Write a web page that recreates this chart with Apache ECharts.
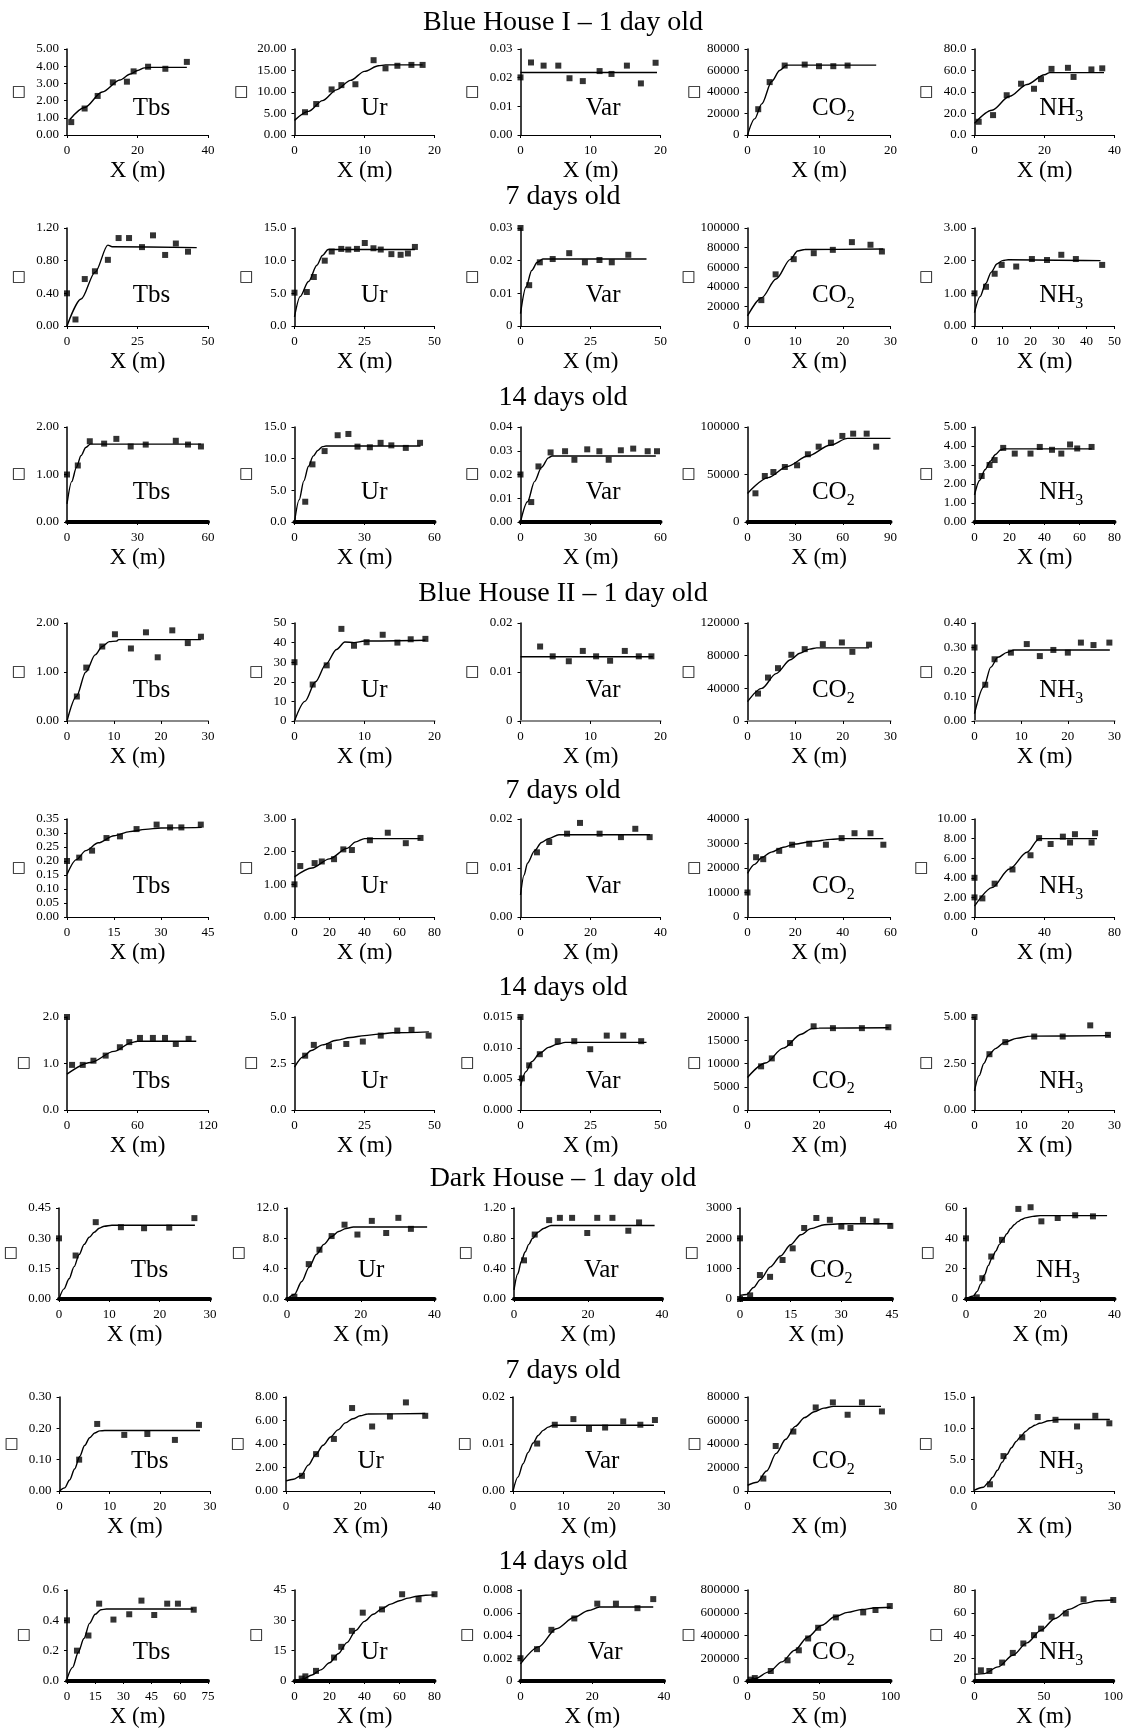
<!DOCTYPE html>
<html><head><meta charset="utf-8">
<script src="https://cdn.jsdelivr.net/npm/echarts@6/dist/echarts.min.js"></script>
<style>html,body{margin:0;padding:0;background:#fff}#c{width:1126px;height:1729px}</style>
</head><body><div id="c"></div>
<script>
// ---------- DATA ----------
const rowTitles = ['Blue House I \u2013 1 day old','7 days old','14 days old','Blue House II \u2013 1 day old','7 days old','14 days old','Dark House \u2013 1 day old','7 days old','14 days old'];
const varNames = ['Tbs','Ur','Var','CO2','NH3'];

// Row 1
const r1TbsPts = [[1.2,0.75],[5,1.54],[8.7,2.27],[13,3.06],[17,3.1],[18.9,3.7],[23,3.97],[27.9,3.85],[34,4.25]];
const r1TbsFit = [[0.8,0.9],[5,1.6],[10,2.5],[15,3.2],[18,3.55],[20,3.75],[22,3.9],[24,3.93],[34,3.93]];
const r1UrPts = [[1.5,5.3],[3.1,7.2],[5.3,10.6],[6.7,11.6],[8.7,11.8],[11.3,17.4],[13,15.5],[14.7,16.1],[16.7,16.3],[18.3,16.3]];
const r1UrFit = [[0,3.4],[2,5.5],[4,8],[6,10.5],[8,12.7],[10,14.8],[12,16.1],[13,16.3],[18.3,16.3]];
const r1VarPts = [[0,0.0201],[1.5,0.0253],[3.3,0.0242],[5.4,0.0242],[7,0.0198],[8.9,0.0188],[11.3,0.0223],[13,0.0213],[15.2,0.0242],[17.2,0.018],[19.3,0.0252]];
const r1VarFit = [[0,0.0218],[19.5,0.0218]];
const r1CO2Pts = [[1.5,24000],[3.1,49200],[5.2,64600],[8,65500],[10,64000],[12,64000],[14,64600]];
const r1CO2Fit = [[0,0],[1,15000],[2,29000],[3.4,50000],[4.5,60000],[5.5,65000],[18,65000]];
const r1NH3Pts = [[1.2,12.3],[5.3,18.5],[9.2,37],[13.3,47.7],[17,43],[19,52],[22,61.5],[26.7,62.5],[28.3,54],[33.4,61],[36.5,62]];
const r1NH3Fit = [[0,10.8],[5,23],[10,36],[15,47],[20,56],[21.5,58],[37,58]];
const r1YLabels = [['0.00','1.00','2.00','3.00','4.00','5.00'],['0.00','5.00','10.00','15.00','20.00'],['0.00','0.01','0.02','0.03'],['0','20000','40000','60000','80000'],['0.0','20.0','40.0','60.0','80.0']];
const r1XTicks = [[0,20,40],[0,10,20],[0,10,20],[0,10,20],[0,20,40]];

// Row 2
const r2TbsPts = [[0,0.40],[3,0.08],[6.3,0.575],[9.9,0.67],[14.5,0.81],[18.3,1.077],[22,1.077],[26.6,0.966],[30.5,1.11],[34.8,0.87],[38.6,1.01],[42.9,0.91]];
const r2TbsFit = [[0,0],[5,0.33],[10,0.66],[14.5,0.99],[16,0.97],[46,0.96]];
const r2UrPts = [[0,5.1],[4.4,5.2],[6.9,7.5],[10.8,10],[13.3,11.4],[16.7,11.8],[19.2,11.7],[22.3,11.8],[25.1,12.7],[28.2,11.9],[30.8,11.7],[34.6,11.0],[37.9,10.9],[40.5,11.1],[43,12.1]];
const r2UrFit = [[0,1.4],[2,4.5],[5,6.8],[8,9.3],[10,10.8],[12,11.7],[43,11.7]];
const r2VarPts = [[0,0.03],[3.1,0.0125],[6.9,0.0195],[11.5,0.0205],[17.4,0.0223],[23,0.0195],[28.2,0.0202],[32.6,0.0195],[38.5,0.0218]];
const r2VarFit = [[0,0.0038],[2,0.012],[4,0.017],[6,0.0195],[8,0.0205],[45,0.0205]];
const r2CO2Pts = [[2.9,26400],[5.9,52700],[9.7,68200],[13.9,74300],[17.9,77700],[21.9,85600],[25.8,82900],[28.2,76000]];
const r2CO2Fit = [[0,10300],[3,29000],[6,48000],[9,68000],[10.5,76500],[12,78000],[28.5,78500]];
const r2NH3Pts = [[0,1.0],[4.1,1.2],[7.2,1.6],[9.7,1.87],[14.9,1.82],[20.5,2.05],[25.9,2.02],[31,2.18],[36.2,2.05],[45.6,1.87]];
const r2NH3Fit = [[0,0.41],[2,0.9],[4,1.3],[6,1.65],[8,1.9],[10,2.0],[12,2.03],[45,2.0]];
const r2YLabels = [['0.00','0.40','0.80','1.20'],['0.0','5.0','10.0','15.0'],['0','0.01','0.02','0.03'],['0','20000','40000','60000','80000','100000'],['0.00','1.00','2.00','3.00']];
const r2XTicks = [[0,25,50],[0,25,50],[0,25,50],[0,10,20,30],[0,10,20,30,40,50]];

// Row 3
const r3TbsPts = [[0,1.0],[4.6,1.19],[9.7,1.7],[15.8,1.65],[21,1.75],[27.1,1.59],[33.5,1.63],[46.3,1.71],[51.5,1.63],[57,1.59]];
const r3TbsFit = [[0,0.38],[2,0.85],[4,1.15],[6,1.4],[8,1.57],[10,1.64],[57,1.64]];
const r3UrPts = [[4.6,3.2],[7.7,9.1],[12.9,11.2],[18.5,13.7],[23.1,13.9],[27,11.9],[32.3,11.8],[36.9,12.5],[41.5,12.1],[47.7,11.7],[53.8,12.5]];
const r3UrFit = [[0,0],[2,3.5],[4,6.5],[6,8.8],[8,10.4],[10,11.3],[12,11.9],[13.5,12],[54,12]];
const r3VarPts = [[0,0.02],[4.6,0.0084],[7.7,0.0234],[12.9,0.0293],[19.1,0.0298],[23.1,0.0262],[28.6,0.0306],[33.8,0.0298],[37.8,0.0262],[43,0.0302],[48.3,0.0309],[54.5,0.0298],[58.5,0.0298]];
const r3VarFit = [[0,0],[3,0.0085],[6,0.017],[9,0.023],[12,0.027],[13.5,0.0278],[58,0.0278]];
const r3CO2Pts = [[5,30200],[10.9,48400],[16.3,52600],[23.5,57900],[31.2,59700],[38,71300],[44.8,79300],[52.5,83500],[59.7,90600],[66.5,93000],[75,93000],[81,79300]];
const r3CO2Fit = [[0,30000],[13,46700],[25,58500],[38,69500],[52,80800],[63,88000],[90,88000]];
const r3NH3Pts = [[4.1,2.42],[8.6,3.0],[11.5,3.26],[16.4,3.9],[23,3.6],[32,3.6],[37.3,3.95],[44.3,3.8],[49.6,3.6],[54.6,4.08],[58.7,3.87],[66.9,3.95]];
const r3NH3Fit = [[0,1.43],[3,2.2],[6,2.75],[9,3.2],[12,3.55],[15,3.8],[17,3.85],[67,3.85]];
const r3YLabels = [['0.00','1.00','2.00'],['0.0','5.0','10.0','15.0'],['0.00','0.01','0.02','0.03','0.04'],['0','50000','100000'],['0.00','1.00','2.00','3.00','4.00','5.00']];
const r3XTicks = [[0,30,60],[0,30,60],[0,30,60],[0,30,60,90],[0,20,40,60,80]];

// Row 4
const r4TbsPts = [[2.1,0.5],[4.1,1.09],[7.5,1.52],[10.2,1.77],[13.6,1.48],[16.8,1.81],[19.3,1.3],[22.4,1.85],[25.7,1.59],[28.5,1.72]];
const r4TbsFit = [[0,0],[2,0.5],[4,1.0],[6,1.35],[7.5,1.52],[9,1.62],[10.5,1.63],[11,1.66],[28.5,1.66]];
const r4UrPts = [[0,30],[2.6,18.6],[4.6,28.4],[6.7,47],[8.5,38.4],[10.3,40.2],[12.6,44],[14.7,40],[16.6,41.7],[18.7,41.9]];
const r4UrFit = [[0,0],[1.5,10],[3,20],[4.5,29],[6,36.5],[7.2,40.3],[8.5,40],[10,40.8],[18.7,41.2]];
const r4VarPts = [[2.8,0.0152],[4.6,0.0132],[6.9,0.0122],[8.9,0.0143],[10.8,0.0132],[12.8,0.0123],[14.9,0.0143],[16.9,0.0132],[18.7,0.0132]];
const r4VarFit = [[0,0.0131],[18.9,0.0131]];
const r4CO2Pts = [[2.2,33600],[4.3,53200],[6.4,64700],[9.2,81100],[12,88000],[15.8,94100],[19.8,96200],[22,84700],[25.5,93500]];
const r4CO2Fit = [[0,23700],[3,40000],[6,58000],[9,75000],[11,83000],[13,88000],[14.5,89500],[25.5,89500]];
const r4NH3Pts = [[0,0.30],[2.3,0.148],[4.3,0.252],[7.8,0.279],[11.2,0.314],[14,0.265],[16.9,0.29],[20,0.279],[22.8,0.32],[25.5,0.31],[28.9,0.32]];
const r4NH3Fit = [[0,0.03],[2,0.14],[3.5,0.22],[5,0.26],[7,0.28],[8.5,0.29],[29,0.29]];
const r4YLabels = [['0.00','1.00','2.00'],['0','10','20','30','40','50'],['0','0.01','0.02'],['0','40000','80000','120000'],['0.00','0.10','0.20','0.30','0.40']];
const r4XTicks = [[0,10,20,30],[0,10,20],[0,10,20],[0,10,20,30],[0,10,20,30]];

// Row 5
const r5TbsPts = [[0,0.20],[3.9,0.212],[8,0.237],[12.6,0.282],[16.9,0.288],[22.2,0.314],[28.6,0.33],[32.9,0.32],[36.5,0.32],[42.7,0.33]];
const r5TbsFit = [[0,0.152],[3,0.205],[6,0.237],[10,0.265],[15,0.29],[20,0.305],[25,0.313],[30,0.318],[43,0.32]];
const r5UrPts = [[0,1.0],[3.3,1.56],[11.5,1.65],[15.6,1.7],[22.6,1.77],[27.9,2.07],[32.8,2.05],[43.1,2.35],[53.3,2.58],[63.6,2.26],[72,2.42]];
const r5UrFit = [[0,1.23],[10,1.5],[20,1.78],[30,2.1],[35,2.3],[40,2.4],[72,2.4]];
const r5VarPts = [[4.7,0.0132],[8.2,0.0153],[13.3,0.017],[17,0.0192],[22.6,0.017],[28.7,0.0163],[32.8,0.018],[36.9,0.0163]];
const r5VarFit = [[0,0.0045],[1,0.0085],[2,0.011],[4,0.0135],[6,0.0152],[8,0.016],[11,0.0168],[37,0.0168]];
const r5CO2Pts = [[0,10000],[3.6,24400],[6.6,23600],[13.3,27000],[18.7,29500],[25.9,29900],[32.9,29500],[39.5,32200],[44.9,34200],[51.6,34200],[57,29500]];
const r5CO2Fit = [[0,17800],[3,21500],[6,24300],[10,26500],[15,28500],[20,29800],[27,30800],[35,31700],[40,32000],[57,32000]];
const r5NH3Pts = [[0,4.0],[0,2.0],[4.5,1.9],[11.5,3.4],[21.7,4.85],[32,6.3],[36.9,8.05],[43.5,7.45],[50.5,8.2],[54.6,7.6],[57.4,8.45],[66.9,7.6],[68.9,8.55]];
const r5NH3Fit = [[0,1.1],[10,3.0],[20,4.9],[30,6.6],[37,8.0],[70,8.0]];
const r5YLabels = [['0.00','0.05','0.10','0.15','0.20','0.25','0.30','0.35'],['0.00','1.00','2.00','3.00'],['0.00','0.01','0.02'],['0','10000','20000','30000','40000'],['0.00','2.00','4.00','6.00','8.00','10.00']];
const r5XTicks = [[0,15,30,45],[0,20,40,60,80],[0,20,40],[0,20,40,60],[0,40,80]];

// Row 6
const r6TbsPts = [[0,2.0],[4.3,0.97],[13.4,0.97],[22.5,1.06],[32.9,1.17],[45,1.35],[53,1.46],[62.1,1.55],[73.1,1.55],[83.4,1.55],[92.6,1.42],[103.5,1.53]];
const r6TbsFit = [[0,0.77],[20,1.02],[40,1.26],[55,1.45],[60,1.48],[110,1.48]];
const r6UrPts = [[3.8,2.92],[6.9,3.5],[12.3,3.43],[18.5,3.55],[24.4,3.68],[30.8,4.0],[36.7,4.27],[41.8,4.31],[47.9,4.0]];
const r6UrFit = [[0,2.3],[3,2.85],[6,3.2],[10,3.5],[15,3.75],[20,3.9],[25,4.0],[30,4.08],[35,4.15],[48,4.2]];
const r6VarPts = [[0,0.015],[0.5,0.0051],[3.1,0.0072],[6.9,0.009],[13.3,0.0111],[19.2,0.0111],[24.9,0.0098],[30.8,0.012],[36.7,0.012],[43.1,0.0111]];
const r6VarFit = [[0,0.0039],[2,0.0062],[4,0.0078],[7,0.0092],[10,0.0101],[13,0.0106],[16,0.0109],[45,0.0109]];
const r6CO2Pts = [[3.8,9390],[6.8,11100],[11.9,14400],[18.5,18000],[23.9,17600],[32,17600],[39.4,17800]];
const r6CO2Fit = [[0,7000],[5,10100],[10,13300],[15,16300],[18,17500],[20,17600],[39.5,17700]];
const r6NH3Pts = [[0,5.0],[3.2,3.0],[6.6,3.65],[12.8,3.95],[18.9,3.95],[24.8,4.55],[28.6,4.04]];
const r6NH3Fit = [[0,1.03],[1,1.85],[2,2.5],[3,2.95],[4.5,3.3],[6.5,3.65],[9,3.85],[12,3.97],[29,4.0]];
const r6YLabels = [['0.0','1.0','2.0'],['0.0','2.5','5.0'],['0.000','0.005','0.010','0.015'],['0','5000','10000','15000','20000'],['0.00','2.50','5.00']];
const r6XTicks = [[0,60,120],[0,25,50],[0,25,50],[0,20,40],[0,10,20,30]];

// Row 7
const r7TbsPts = [[0,0.30],[3.3,0.215],[7.3,0.38],[12.3,0.355],[16.9,0.35],[21.9,0.353],[26.9,0.40]];
const r7TbsFit = [[0,0],[1,0.05],[2,0.1],[3,0.16],[4,0.22],[5,0.27],[6,0.305],[7,0.33],[8,0.35],[9,0.36],[10.5,0.365],[27,0.365]];
const r7UrPts = [[2,0.3],[5.9,4.6],[8.8,6.5],[12.1,8.3],[15.6,9.8],[19.1,8.5],[23,10.3],[26.9,8.7],[30.2,10.7],[33.6,9.25]];
const r7UrFit = [[0,0],[2,0.6],[4,2.3],[6,4.2],[8,5.9],[10,7.2],[12,8.2],[14,8.9],[16,9.3],[18,9.5],[38,9.5]];
const r7VarPts = [[2.7,0.51],[5.6,0.85],[9.5,1.04],[12.4,1.07],[15.7,1.07],[19.8,0.87],[22.5,1.07],[26.6,1.07],[30.9,0.9],[33.8,1.01]];
const r7VarFit = [[0,0.12],[1,0.33],[2,0.5],[3,0.62],[4,0.72],[5,0.8],[6.5,0.88],[8,0.93],[10,0.97],[38,0.97]];
const r7CO2Pts = [[0,0],[0,2000],[3,120],[5.9,790],[8.9,730],[12.6,1285],[15.6,1670],[19,2340],[22.6,2670],[26.6,2610],[30,2390],[32.7,2340],[36.4,2610],[40.4,2560],[44.5,2410]];
const r7CO2Fit = [[0,120],[2,150],[4,380],[6,640],[9,1060],[12,1420],[15,1790],[18,2120],[21,2320],[25,2450],[30,2480],[45,2480]];
const r7NH3Pts = [[0,40],[2.9,1.1],[4.4,13.7],[6.8,28],[9.7,39],[14.1,59.4],[17.4,60.5],[20.3,51.2],[24.7,53.4],[29.4,55.2],[34.2,54.5]];
const r7NH3Fit = [[0,0],[2,2],[3,5],[4,10],[5,16],[6,22],[7,27],[8,31.5],[9,36],[10,39.5],[11,43],[12,46.5],[13,49],[14,51],[15,52.5],[16,53.5],[18,54.5],[20,55],[38,55]];
const r7YLabels = [['0.00','0.15','0.30','0.45'],['0.0','4.0','8.0','12.0'],['0.00','0.40','0.80','1.20'],['0','1000','2000','3000'],['0','20','40','60']];
const r7XTicks = [[0,10,20,30],[0,20,40],[0,20,40],[0,15,30,45],[0,20,40]];

// Row 8
const r8TbsPts = [[3.9,0.10],[7.5,0.214],[12.9,0.179],[17.5,0.182],[23,0.163],[27.8,0.211]];
const r8TbsFit = [[0,0],[1,0.01],[2,0.035],[3,0.07],[4,0.11],[5,0.145],[6,0.17],[7,0.185],[8,0.192],[9,0.193],[28,0.193]];
const r8UrPts = [[4.3,1.29],[8.1,3.14],[12.9,4.43],[17.8,7.06],[23.2,5.49],[28,6.34],[32.3,7.54],[37.5,6.4]];
const r8UrFit = [[0,0.86],[2,1.0],[4,1.3],[6,2.2],[8,3.1],[10,3.9],[12,4.6],[14,5.2],[16,5.8],[18,6.15],[20,6.4],[22,6.55],[37.5,6.6]];
const r8VarPts = [[4.8,0.0101],[8.3,0.0141],[12,0.0153],[15.1,0.0132],[18.3,0.0135],[21.9,0.0148],[25.3,0.0141],[28.2,0.0151]];
const r8VarFit = [[0,0],[1,0.003],[2,0.0058],[3,0.0082],[4,0.0102],[5,0.0118],[6,0.0129],[7,0.0136],[8,0.014],[28,0.014]];
const r8CO2Pts = [[3.3,10600],[5.9,38300],[9.6,50600],[14.3,71100],[17.9,75400],[21,64900],[24,75400],[28.2,67700]];
const r8CO2Fit = [[0,4900],[2,7500],[4,17000],[6,32000],[8,44000],[10,55000],[12,62500],[14,67500],[16,70500],[18,72000],[28,72000]];
const r8NH3Pts = [[3.4,1.07],[6.3,5.57],[10.3,8.57],[13.6,11.8],[17.4,11.36],[22,10.3],[25.9,12],[28.9,10.8]];
const r8NH3Fit = [[0,0.1],[2,0.6],[3,1.3],[4,2.2],[5,3.3],[6,4.6],[7,5.8],[8,6.9],[9,7.9],[10,8.7],[11,9.5],[12,10.1],[13,10.5],[14,10.8],[16,11.2],[18,11.4],[29,11.4]];
const r8YLabels = [['0.00','0.10','0.20','0.30'],['0.00','2.00','4.00','6.00','8.00'],['0.00','0.01','0.02'],['0','20000','40000','60000','80000'],['0.0','5.0','10.0','15.0']];
const r8XTicks = [[0,10,20,30],[0,20,40],[0,10,20,30],[0,30],[0,30]];

// Row 9
const r9TbsPts = [[0,0.4],[5.3,0.2],[11.4,0.30],[17.1,0.51],[24.7,0.405],[33.1,0.44],[39.6,0.53],[46.4,0.435],[53.3,0.51],[59,0.51],[67.4,0.47]];
const r9TbsFit = [[0,0.015],[3,0.09],[6,0.19],[9,0.28],[12,0.38],[15,0.44],[18,0.47],[21,0.475],[67,0.475]];
const r9UrPts = [[4.1,1.2],[6.2,2.3],[12.3,5],[22.6,11.6],[26.7,16.9],[32.8,24.8],[39,33.8],[50,35.4],[61.5,42.9],[70.9,40.4],[80,42.9]];
const r9UrFit = [[0,0],[5,1],[10,3],[15,5.5],[20,9],[25,13.5],[30,19],[35,25],[40,29.5],[45,33],[50,35.8],[55,38],[60,39.7],[65,41],[70,41.9],[75,42.4],[80,42.6]];
const r9VarPts = [[0,0.002],[4.6,0.0028],[8.6,0.0045],[15,0.0055],[21.4,0.0068],[26.6,0.0068],[32.6,0.0064],[37,0.0072]];
const r9VarFit = [[0,0.0015],[5,0.003],[10,0.0046],[15,0.0056],[19,0.0062],[22,0.0065],[37,0.0065]];
const r9CO2Pts = [[2.3,12000],[5.1,26000],[16.3,88000],[28,182000],[35.9,270000],[42.4,374000],[49.4,468000],[61.8,559000],[80.9,603000],[89.5,624000],[99.5,659000]];
const r9CO2Fit = [[0,0],[5,20000],[15,80000],[24,168000],[33,270000],[42,385000],[52,490000],[61,565000],[70,603000],[80,629000],[90,644000],[100,648000]];
const r9NH3Pts = [[4.6,9.4],[10.7,8.8],[19.9,16.2],[27.6,24.7],[35.2,33],[42.9,40.3],[48,46],[55.6,56.5],[65.8,59.4],[78.6,71.8],[100,71.2]];
const r9NH3Fit = [[0,5.9],[7,6.5],[17,12.4],[27.6,22.6],[37.8,33.5],[48,44.7],[58,55],[68,63],[78.6,68.2],[89,70.6],[100,71.2]];
const r9YLabels = [['0.0','0.2','0.4','0.6'],['0','15','30','45'],['0','0.002','0.004','0.006','0.008'],['0','200000','400000','600000','800000'],['0','20','40','60','80']];
const r9XTicks = [[0,15,30,45,60,75],[0,20,40,60,80],[0,20,40],[0,50,100],[0,50,100]];

const rowData = [
  {pts:[r1TbsPts,r1UrPts,r1VarPts,r1CO2Pts,r1NH3Pts], fit:[r1TbsFit,r1UrFit,r1VarFit,r1CO2Fit,r1NH3Fit], yl:r1YLabels, xt:r1XTicks},
  {pts:[r2TbsPts,r2UrPts,r2VarPts,r2CO2Pts,r2NH3Pts], fit:[r2TbsFit,r2UrFit,r2VarFit,r2CO2Fit,r2NH3Fit], yl:r2YLabels, xt:r2XTicks},
  {pts:[r3TbsPts,r3UrPts,r3VarPts,r3CO2Pts,r3NH3Pts], fit:[r3TbsFit,r3UrFit,r3VarFit,r3CO2Fit,r3NH3Fit], yl:r3YLabels, xt:r3XTicks},
  {pts:[r4TbsPts,r4UrPts,r4VarPts,r4CO2Pts,r4NH3Pts], fit:[r4TbsFit,r4UrFit,r4VarFit,r4CO2Fit,r4NH3Fit], yl:r4YLabels, xt:r4XTicks},
  {pts:[r5TbsPts,r5UrPts,r5VarPts,r5CO2Pts,r5NH3Pts], fit:[r5TbsFit,r5UrFit,r5VarFit,r5CO2Fit,r5NH3Fit], yl:r5YLabels, xt:r5XTicks},
  {pts:[r6TbsPts,r6UrPts,r6VarPts,r6CO2Pts,r6NH3Pts], fit:[r6TbsFit,r6UrFit,r6VarFit,r6CO2Fit,r6NH3Fit], yl:r6YLabels, xt:r6XTicks},
  {pts:[r7TbsPts,r7UrPts,r7VarPts,r7CO2Pts,r7NH3Pts], fit:[r7TbsFit,r7UrFit,r7VarFit,r7CO2Fit,r7NH3Fit], yl:r7YLabels, xt:r7XTicks},
  {pts:[r8TbsPts,r8UrPts,r8VarPts,r8CO2Pts,r8NH3Pts], fit:[r8TbsFit,r8UrFit,r8VarFit,r8CO2Fit,r8NH3Fit], yl:r8YLabels, xt:r8XTicks},
  {pts:[r9TbsPts,r9UrPts,r9VarPts,r9CO2Pts,r9NH3Pts], fit:[r9TbsFit,r9UrFit,r9VarFit,r9CO2Fit,r9NH3Fit], yl:r9YLabels, xt:r9XTicks}
];

// ---------- LAYOUT ----------
const FONT = '"Liberation Serif","Times New Roman",serif';
const rowTop = [49,228,427,623,819,1017,1208,1397,1590];
const rowBot = [135,326,522,721,917,1110,1299,1491,1681];
const titleY = [23,197,398,594,791,988,1179,1371,1562];
const defL = [67,294.5,520.5,747.5,974.5];
const defR = [208,434.5,660.5,890.5,1114.5];
const rowL = {6:[59,287,514,740,966], 7:[59.6,286,513,747.6,974]};
const rowR = {6:[210,434.5,662,892,1114.5], 7:[210,434.5,664,890.5,1114.5], 8:[208,434.5,664,890.5,1114.5]};
const xLineW = [1.2,1.2,4,2,1.2,1.2,4,1.2,4];
const xLineC = ['#000','#000','#000','#888','#000','#000','#000','#000','#000'];
const labelRelX = [0.6,0.57,0.59,0.6,0.62];

const grids = [], xAxes = [], yAxes = [], series = [], graphics = [];
rowData.forEach((row, r) => {
  graphics.push({type:'text', x:563, y:titleY[r], style:{text:rowTitles[r], fontSize:28, fontFamily:FONT, fill:'#000', align:'center', verticalAlign:'middle', textAlign:'center', textVerticalAlign:'middle'}});
  for (let c = 0; c < 5; c++) {
    const L = (rowL[r] || defL)[c], R = (rowR[r] || defR)[c];
    const T = rowTop[r], B = rowBot[r];
    const i = grids.length;
    grids.push({left:L, top:T, width:R-L, height:B-T});
    const xt = row.xt[c];
    xAxes.push({
      gridIndex:i, type:'value', min:0, max:xt[xt.length-1], interval:xt[1]-xt[0],
      name:'X (m)', nameLocation:'middle', nameGap:24,
      nameTextStyle:{fontFamily:FONT, fontSize:23, color:'#000'},
      axisLine:{show:true, onZero:false, lineStyle:{color:xLineC[r], width:xLineW[r]}},
      axisTick:{show:true, length:3, lineStyle:{color:'#000'}},
      splitLine:{show:false},
      axisLabel:{fontFamily:FONT, fontSize:13, color:'#000', margin:9, showMinLabel:true, showMaxLabel:true}
    });
    const yl = row.yl[c];
    const yint = parseFloat(yl[1]) - parseFloat(yl[0]);
    const ymax = parseFloat(yl[yl.length-1]);
    const maxChars = Math.max(...yl.map(s => s.length));
    yAxes.push({
      gridIndex:i, type:'value', min:0, max:ymax, interval:yint,
      name:'\u25A1', nameLocation:'middle', nameRotate:0, nameGap:5*maxChars+21,
      nameTextStyle:{fontFamily:'DejaVu Sans', fontSize:15, color:'#000'},
      axisLine:{show:true, onZero:false, lineStyle:{color:'#000', width:1.5}},
      axisTick:{show:true, length:3, lineStyle:{color:'#000'}},
      splitLine:{show:false},
      axisLabel:{fontFamily:FONT, fontSize:13, color:'#000', margin:8, showMinLabel:true, showMaxLabel:true,
        formatter:(v) => { const k = Math.round(v / yint); return yl[k] !== undefined ? yl[k] : ''; }}
    });
    series.push({type:'line', xAxisIndex:i, yAxisIndex:i, data:row.fit[c], showSymbol:false, symbol:'none',
      smooth:0.3, smoothMonotone:'x', lineStyle:{color:'#000', width:1.4}, z:2, silent:true, animation:false});
    series.push({type:'scatter', xAxisIndex:i, yAxisIndex:i, data:row.pts[c], symbol:'rect', symbolSize:6,
      itemStyle:{color:'#000'}, clip:false, z:3, silent:true, animation:false});
    const nm = varNames[c];
    const lx = L + labelRelX[c]*(R-L), ly = T + 0.69*(B-T);
    let text, rich;
    if (nm === 'CO2' || nm === 'NH3') {
      text = '{m|' + nm.slice(0,-1) + '}{s|' + nm.slice(-1) + '}';
      rich = {m:{fontSize:25, fontFamily:FONT, fill:'#000', lineHeight:32, verticalAlign:'middle'},
              s:{fontSize:16, fontFamily:FONT, fill:'#000', lineHeight:32, verticalAlign:'bottom'}};
    } else { text = nm; }
    graphics.push({type:'text', x:lx, y:ly, z:10, style:Object.assign({text:text, fontSize:25, fontFamily:FONT, fill:'#000', align:'center', verticalAlign:'middle', textAlign:'center', textVerticalAlign:'middle'}, rich ? {rich:rich} : {})});
  }
});

const chart = echarts.init(document.getElementById('c'), null, {renderer:'canvas'});
chart.setOption({
  backgroundColor:'#fff', animation:false,
  grid:grids, xAxis:xAxes, yAxis:yAxes, series:series, graphic:graphics
});
</script></body></html>
